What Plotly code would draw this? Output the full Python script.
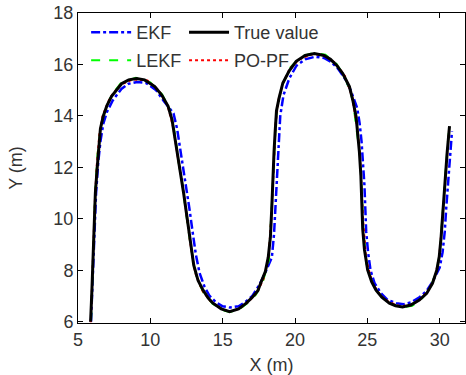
import plotly.graph_objects as go

# True trajectory
true_x = [5.87,5.92,5.96,6.01,6.07,6.12,6.2,6.33,6.42,6.55,6.74,7.0,7.32,7.7,8.01,8.5,9.05,9.6,10.31,10.8,
          11.23,11.5,11.69,11.85,12.05,12.3,12.55,12.78,13.0,13.3,13.64,14.0,14.33,14.9,15.48,16.1,16.63,17.05,17.43,17.7,
          17.95,18.15,18.3,18.4,18.47,18.55,18.62,18.72,18.9,19.16,19.6,20.08,20.7,21.34,22.0,22.45,22.84,23.3,23.76,24.0,
          24.22,24.35,24.45,24.55,24.62,24.68,24.8,25.02,25.3,25.6,26.0,26.52,26.95,27.43,28.0,28.59,29.1,29.5,29.8,29.97,
          30.1,30.2,30.32,30.43,30.52,30.6,30.68]
true_y = [6.0,6.5,7.2,8.0,9.0,10.0,11.0,12.0,12.8,13.5,13.98,14.4,14.76,15.05,15.25,15.4,15.45,15.4,15.14,14.8,
          14.37,13.85,13.2,12.6,11.9,11.0,10.0,9.0,8.2,7.6,7.23,6.92,6.72,6.5,6.39,6.5,6.72,6.95,7.2,7.6,
          7.95,8.5,9.3,10.5,11.7,12.6,13.3,14.2,14.7,15.28,15.75,16.12,16.35,16.42,16.35,16.2,15.99,15.65,15.14,14.6,
          13.98,13.3,12.6,11.7,10.8,9.6,8.8,8.01,7.55,7.23,6.95,6.72,6.62,6.57,6.65,6.84,7.1,7.49,8.0,8.53,
          9.3,10.22,11.1,11.9,12.6,13.2,13.6]

# EKF estimate
ekf_x = [5.9,6.0,6.1,6.25,6.4,6.55,6.75,7.0,7.4,8.0,8.5,9.1,9.7,10.4,10.9,11.6,11.85,12.05,12.28,12.5,
         12.7,12.92,13.15,13.4,13.75,14.1,14.55,15.0,15.5,16.1,16.6,17.05,17.5,17.9,18.4,18.55,18.65,18.72,18.8,18.88,
         18.98,19.2,19.6,20.1,20.7,21.4,22.0,22.5,22.95,23.4,23.85,24.3,24.47,24.6,24.7,24.8,24.86,24.92,25.05,25.22,
         25.5,25.95,26.4,27.0,27.5,28.0,28.6,29.1,29.5,30.0,30.2,30.35,30.45,30.57,30.68,30.78,30.85]
ekf_y = [6.0,7.5,9.5,11.0,12.2,13.0,13.7,14.15,14.6,15.05,15.25,15.32,15.28,15.0,14.6,14.1,13.5,12.8,12.0,11.2,
         10.4,9.5,8.6,7.9,7.35,7.0,6.75,6.6,6.55,6.6,6.78,7.0,7.4,7.85,8.5,9.4,10.5,11.6,12.5,13.3,
         14.0,14.8,15.45,15.95,16.2,16.3,16.25,16.1,15.85,15.5,15.0,14.3,13.7,13.0,12.2,11.3,10.4,9.5,8.7,8.0,
         7.5,7.1,6.85,6.72,6.68,6.75,6.95,7.2,7.55,8.1,8.7,9.5,10.4,11.3,12.1,12.8,13.4]

# LEKF estimate
lekf_x = [5.9,6.0,6.1,6.2,6.35,6.55,6.8,7.3,8.0,9.0,10.0,10.8,11.3,11.7,11.95,12.2,12.5,12.8,13.2,13.7,
          14.3,15.0,15.5,16.1,16.7,17.3,17.8,18.2,18.42,18.55,18.68,18.9,19.2,19.7,20.4,21.3,22.1,22.9,23.5,24.0,
          24.3,24.5,24.62,24.72,24.95,25.4,26.0,26.6,27.4,28.1,28.7,29.3,29.75,30.0,30.2,30.4,30.55,30.66]
lekf_y = [6.05,8.0,10.0,11.2,12.5,13.5,14.1,14.8,15.3,15.48,15.3,14.85,14.3,13.3,12.2,11.4,10.1,8.9,7.7,7.1,
          6.7,6.45,6.38,6.46,6.72,7.05,7.6,8.4,10.8,12.5,13.9,14.7,15.3,15.9,16.3,16.45,16.38,16.0,15.45,14.6,
          13.4,12.4,11.0,9.6,8.2,7.4,6.95,6.7,6.55,6.62,6.85,7.25,7.9,8.6,10.2,11.9,12.9,13.55]

# PO-PF estimate
popf_x = [5.88,5.98,6.08,6.18,6.3,6.48,6.7,7.2,7.9,8.8,9.8,10.6,11.2,11.6,11.9,12.15,12.45,12.75,13.1,13.6,
          14.2,14.9,15.5,16.2,16.8,17.4,17.85,18.18,18.4,18.52,18.66,18.85,19.15,19.65,20.3,21.2,22.0,22.8,23.45,23.95,
          24.28,24.48,24.6,24.7,24.92,25.35,25.9,26.5,27.3,28.0,28.65,29.25,29.7,29.98,30.18,30.38,30.53,30.65]
popf_y = [5.98,7.8,9.6,10.9,12.1,13.3,14.0,14.7,15.2,15.42,15.38,14.98,14.4,13.5,12.4,11.6,10.4,9.1,7.9,7.2,
          6.77,6.5,6.4,6.52,6.78,7.15,7.7,8.55,10.4,12.2,13.7,14.6,15.25,15.85,16.2,16.4,16.36,16.05,15.55,14.75,
          13.6,12.6,11.4,10.0,8.4,7.5,7.02,6.76,6.6,6.64,6.86,7.24,7.78,8.6,9.9,11.6,12.75,13.5]

x_ticks = [5, 10, 15, 20, 25, 30]
y_ticks = [6, 8, 10, 12, 14, 16, 18]

FONT = "Liberation Sans, Arial, sans-serif"
TXT = "#333333"
FS = 18

fig = go.Figure()
fig.add_trace(go.Scatter(x=ekf_x, y=ekf_y, mode="lines", name="EKF", legend="legend",
                         line=dict(color="#0000ff", width=2.5, dash="dashdot")))
fig.add_trace(go.Scatter(x=lekf_x, y=lekf_y, mode="lines", name="LEKF", legend="legend3",
                         line=dict(color="#00ff00", width=2, dash="dash")))
fig.add_trace(go.Scatter(x=popf_x, y=popf_y, mode="lines", name="PO-PF", legend="legend4",
                         line=dict(color="#ff0000", width=2, dash="dot")))
fig.add_trace(go.Scatter(x=true_x, y=true_y, mode="lines", name="True value", legend="legend2",
                         line=dict(color="#000000", width=3)))

leg_common = dict(orientation="v", xanchor="left", yanchor="top",
                  bgcolor="rgba(0,0,0,0)", itemwidth=40,
                  font=dict(family=FONT, size=FS, color=TXT))
col1, col2 = 0.021, 0.274
row1, row2 = 0.997, 0.906
fig.update_layout(
    width=466, height=375,
    margin=dict(l=78, r=1, t=13, b=52),
    paper_bgcolor="white", plot_bgcolor="white",
    font=dict(family=FONT, size=FS, color=TXT),
    showlegend=True,
    legend=dict(x=col1, y=row1, **leg_common),
    legend2=dict(x=col2, y=row1, **leg_common),
    legend3=dict(x=col1, y=row2, **leg_common),
    legend4=dict(x=col2, y=row2, **leg_common),
)
fig.update_xaxes(range=[5, 31.75], tickvals=x_ticks, ticks="inside", ticklen=5,
                 showline=True, linecolor="black", linewidth=1, mirror="ticks",
                 showgrid=False, zeroline=False, tickcolor="black",
                 title=dict(text="X (m)", font=dict(size=FS, color=TXT), standoff=11),
                 tickfont=dict(size=FS, color=TXT), automargin=False)
fig.update_yaxes(range=[5.95, 18], tickvals=y_ticks, ticks="inside", ticklen=5,
                 showline=True, linecolor="black", linewidth=1, mirror="ticks",
                 showgrid=False, zeroline=False, tickcolor="black",
                 title=dict(text="Y (m)", font=dict(size=FS, color=TXT), standoff=26),
                 tickfont=dict(size=FS, color=TXT), automargin=False)

fig.write_html("out.html")
